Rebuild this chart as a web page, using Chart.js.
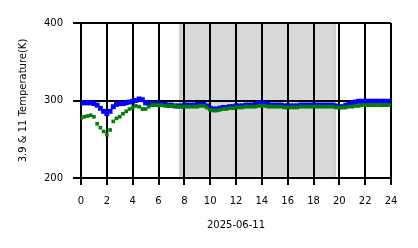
<!DOCTYPE html>
<html>
<head>
<meta charset="utf-8">
<script src="https://cdn.jsdelivr.net/npm/chart.js@4"></script>
<style>
  html, body { margin: 0; padding: 0; background: #fff; }
  #wrap { width: 418px; height: 248px; }
</style>
</head>
<body>
<div id="wrap"><canvas id="tempChart"></canvas></div>
<script>
// hours of the day (UTC)
const hours = [
  0, 0.25, 0.5, 0.75, 1, 1.25, 1.5, 1.75, 2, 2.25, 2.5, 2.75, 3, 3.25, 3.5, 3.75,
  4, 4.25, 4.5, 4.75, 5, 5.25, 5.5, 5.75, 6, 6.25, 6.5, 6.75, 7, 7.25, 7.5, 7.75,
  8, 8.25, 8.5, 8.75, 9, 9.25, 9.5, 9.75, 10, 10.25, 10.5, 10.75, 11, 11.25, 11.5, 11.75,
  12, 12.25, 12.5, 12.75, 13, 13.25, 13.5, 13.75, 14, 14.25, 14.5, 14.75, 15, 15.25, 15.5, 15.75,
  16, 16.25, 16.5, 16.75, 17, 17.25, 17.5, 17.75, 18, 18.25, 18.5, 18.75, 19, 19.25, 19.5, 19.75,
  20, 20.25, 20.5, 20.75, 21, 21.25, 21.5, 21.75, 22, 22.25, 22.5, 22.75, 23, 23.25, 23.5, 23.75, 24
];
// 3.9 um channel
const temp39 = [
  297, 297, 297, 297, 296, 294, 290, 286, 283, 286, 292, 295, 296, 296, 297, 298,
  299, 300, 302, 301, 297, 296, 296, 296, 296, 295, 295, 294, 294, 293, 293, 293,
  294, 294, 294, 294, 295, 295, 295, 293, 290, 289, 289, 290, 291, 291, 292, 292,
  293, 293, 293, 294, 294, 294, 295, 296, 297, 296, 295, 294, 294, 294, 294, 293,
  293, 293, 293, 293, 294, 294, 294, 294, 294, 294, 294, 294, 294, 294, 294, 293,
  292, 292, 294, 295, 297, 298, 299, 299, 299, 299, 299, 299, 299, 299, 299, 299, 299
];
// 11 um channel
const temp11 = [
  277, 279, 280, 281, 279, 270, 265, 260, 256, 262, 273, 277, 279, 283, 286, 289,
  291, 293, 292, 289, 289, 292, 294, 294, 294, 294, 293, 293, 293, 293, 292, 292,
  292, 292, 292, 292, 292, 293, 293, 291, 288, 287, 287, 288, 289, 289, 290, 290,
  291, 291, 291, 292, 292, 292, 292, 293, 293, 293, 292, 292, 292, 292, 292, 291,
  291, 291, 291, 291, 292, 292, 292, 292, 292, 292, 292, 292, 292, 292, 292, 291,
  291, 291, 291, 292, 292, 293, 293, 294, 294, 294, 294, 294, 294, 294, 294, 294, 294
];
const nightSpan = [7.6, 19.75];
const yTicks = [200, 300, 400];

const pts = (vals) => hours.map((h, i) => ({ x: h, y: vals[i] }));

// gray shaded period behind the grid
const shadePlugin = {
  id: 'shade',
  beforeDraw(chart) {
    const { ctx, chartArea, scales } = chart;
    const x0 = scales.x.getPixelForValue(nightSpan[0]);
    const x1 = scales.x.getPixelForValue(nightSpan[1]);
    ctx.save();
    ctx.fillStyle = '#d9d9d9';
    ctx.fillRect(x0, chartArea.top, x1 - x0, chartArea.bottom - chartArea.top);
    ctx.fillStyle = '#cfcfcf';
    ctx.fillRect(x0, chartArea.top, 3, chartArea.bottom - chartArea.top);
    ctx.fillRect(x1 - 3, chartArea.top, 3, chartArea.bottom - chartArea.top);
    ctx.restore();
  }
};

const ctx = document.getElementById('tempChart').getContext('2d');
new Chart(ctx, {
  type: 'scatter',
  data: {
    datasets: [{
      label: '3.9',
      data: pts(temp39),
      order: 2,
      pointStyle: 'rect',
      pointRadius: 3.5,
      backgroundColor: '#0000ff',
      borderWidth: 0
    }, {
      label: '11',
      data: pts(temp11),
      order: 1,
      pointStyle: 'rect',
      pointRadius: 2.6,
      backgroundColor: '#008000',
      borderWidth: 0
    }]
  },
  options: {
    responsive: true,
    maintainAspectRatio: false,
    animation: false,
    events: [],
    layout: {
      padding: { top: 23, right: 27, bottom: 13, left: 0 }
    },
    plugins: {
      legend: { display: false },
      tooltip: { enabled: false }
    },
    scales: {
      x: {
        type: 'linear',
        min: 0,
        max: 24,
        afterFit(axis) { axis.height = 57; },
        ticks: {
          stepSize: 2,
          color: '#000',
          padding: 10,
          font: { family: 'DejaVu Sans', size: 10 }
        },
        grid: { color: '#000', lineWidth: 2, tickLength: 7 },
        border: { color: '#000', width: 2 },
        title: {
          display: true,
          text: '2025-06-11',
          color: '#000',
          padding: { top: 0, bottom: 4 },
          font: { family: 'DejaVu Sans', size: 10 }
        }
      },
      y: {
        min: 200,
        max: 400,
        afterFit(axis) { axis.width = 81; },
        afterBuildTicks(axis) { axis.ticks = yTicks.map(v => ({ value: v })); },
        ticks: {
          color: '#000',
          padding: 10,
          font: { family: 'DejaVu Sans', size: 10 }
        },
        grid: { color: '#000', lineWidth: 2, tickLength: 8 },
        border: { color: '#000', width: 2 },
        title: {
          display: true,
          text: '3.9 & 11 Temperature(K)',
          color: '#000',
          padding: { top: 17, bottom: 0 },
          font: { family: 'DejaVu Sans', size: 10 }
        }
      }
    }
  },
  plugins: [shadePlugin]
});
</script>
</body>
</html>
